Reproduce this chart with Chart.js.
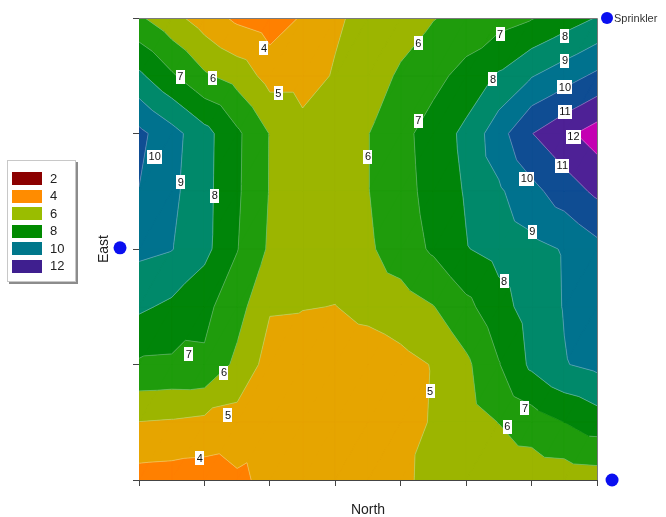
<!DOCTYPE html>
<html>
<head>
<meta charset="utf-8">
<script src="https://cdn.jsdelivr.net/npm/chart.js@4/dist/chart.umd.min.js"></script>
<style>
  html, body { margin: 0; padding: 0; background: #ffffff; }
  #wrap { width: 666px; height: 517px; }
</style>
</head>
<body>
<div id="wrap"><canvas id="field" width="666" height="517"></canvas></div>
<script>
// Axis tick positions (no tick labels are shown)
const northTicks = [0, 1, 2, 3, 4, 5, 6, 7];
const eastTicks = [0, 1, 2, 3, 4];

// Measurement grid: North every 0.5, East every 0.5
const gridNorth = [0, 0.5, 1, 1.5, 2, 2.5, 3, 3.5, 4, 4.5, 5, 5.5, 6, 6.5, 7];
const gridEast = [0, 0.5, 1, 1.5, 2, 2.5, 3, 3.5, 4];

// Water depth readings, one row per East position (bottom to top)
const eastRow0 = [3.60, 3.55, 3.50, 3.85, 4.20, 4.35, 4.50, 4.70, 4.93, 5.10, 5.20, 5.28, 5.35, 5.42, 5.50];
const eastRow1 = [4.98, 4.90, 4.75, 4.60, 4.35, 4.25, 4.25, 4.35, 4.60, 5.09, 5.56, 6.02, 6.50, 7.00, 7.50];
const eastRow2 = [6.86, 6.82, 6.85, 5.75, 4.60, 4.30, 4.30, 4.40, 4.70, 5.05, 5.80, 6.95, 8.20, 8.95, 9.25];
const eastRow3 = [8.17, 7.80, 7.25, 6.40, 5.08, 5.05, 4.98, 5.30, 5.55, 5.97, 6.74, 7.64, 8.42, 9.05, 9.47];
const eastRow4 = [9.23, 9.04, 8.29, 7.04, 5.85, 5.45, 5.45, 5.85, 6.49, 7.15, 7.95, 8.34, 8.70, 9.07, 9.70];
const eastRow5 = [9.98, 9.24, 8.32, 7.15, 5.95, 5.45, 5.50, 5.97, 6.64, 7.35, 8.09, 8.85, 9.71, 10.49, 11.20];
const eastRow6 = [10.25, 9.36, 8.35, 7.18, 5.96, 5.30, 5.40, 5.97, 6.71, 7.43, 8.24, 9.60, 10.97, 11.75, 12.45];
const eastRow7 = [8.20, 7.14, 6.14, 5.60, 4.62, 4.62, 5.08, 5.59, 6.12, 6.69, 7.35, 8.12, 8.94, 9.55, 10.20];
const eastRow8 = [6.15, 5.33, 4.52, 3.80, 3.45, 4.10, 4.87, 5.28, 5.62, 5.96, 6.29, 6.62, 6.94, 7.49, 8.05];
const surfaceRows = [eastRow0, eastRow1, eastRow2, eastRow3, eastRow4, eastRow5, eastRow6, eastRow7, eastRow8];

// Contour levels and the legend entries
const contourLevels = [4, 5, 6, 7, 8, 9, 10, 11, 12];
const legendLevels = [2, 4, 6, 8, 10, 12];

// Sprinkler positions (they sit just outside the measured field)
const sprinklerNorth = [-0.29, 7.23];
const sprinklerEast = [2.01, 0.0];

// Contour label anchors (North, East) and the level each one names
const labelNorth = [1.91, 2.13, 0.63, 1.13, 0.24, 0.64, 1.16, 4.27, 5.52, 6.51, 6.51, 6.51, 6.51, 6.64, 5.41, 4.27, 3.50, 6.47, 5.93, 6.01, 5.58, 4.45, 5.90, 5.63, 0.76, 1.30, 1.36, 0.93];
const labelEast  = [3.74, 3.35, 3.49, 3.48, 2.80, 2.58, 2.46, 3.78, 3.86, 3.84, 3.63, 3.40, 3.19, 2.97, 3.47, 3.11, 2.80, 2.72, 2.61, 2.15, 1.72, 0.77, 0.62, 0.46, 1.09, 0.93, 0.56, 0.19];
const labelLevel = [4, 5, 7, 6, 10, 9, 8, 6, 7, 8, 9, 10, 11, 12, 8, 7, 6, 11, 10, 9, 8, 5, 7, 6, 7, 6, 5, 4];

// Fill colours: below 4, 4-5, 5-6, ... 11-12, above 12
const bandColors = ['#ff8000', '#e6a500', '#9cb500', '#1f9c0c', '#008509', '#00896a', '#00728e', '#0f4d93', '#4e2196', '#c400b2'];
const legendColors = ['#8b0000', '#ff8c00', '#9abd00', '#008a00', '#00778a', '#3f1f8f'];
const sprinklerColor = '#0a0ff0';

const FONT = '"Liberation Sans", Arial, Helvetica, sans-serif';

function clipPoly(poly, keep, level) {
  const out = [];
  for (let k = 0; k < poly.length; k++) {
    const a = poly[k], b = poly[(k + 1) % poly.length];
    const ai = keep(a.v), bi = keep(b.v);
    if (ai) out.push(a);
    if (ai !== bi) {
      const t = (level - a.v) / (b.v - a.v);
      out.push({ x: a.x + (b.x - a.x) * t, y: a.y + (b.y - a.y) * t, v: level });
    }
  }
  return out;
}

function buildTriangles(chart) {
  const sx = chart.scales.x, sy = chart.scales.y;
  const tris = [];
  for (let j = 0; j < gridEast.length - 1; j++) {
    for (let i = 0; i < gridNorth.length - 1; i++) {
      const p = (ii, jj) => ({
        x: sx.getPixelForValue(gridNorth[ii]),
        y: sy.getPixelForValue(gridEast[jj]),
        v: surfaceRows[jj][ii]
      });
      const a = p(i, j), b = p(i + 1, j), c = p(i + 1, j + 1), d = p(i, j + 1);
      tris.push([a, b, c]);
      tris.push([a, c, d]);
    }
  }
  return tris;
}

const contourPlugin = {
  id: 'contourFill',
  beforeDatasetsDraw(chart) {
    const ctx = chart.ctx, area = chart.chartArea;
    const tris = buildTriangles(chart);
    ctx.save();
    ctx.beginPath();
    ctx.rect(area.left, area.top, area.right - area.left, area.bottom - area.top);
    ctx.clip();
    const edges = [-1e9].concat(contourLevels, [1e9]);
    for (let b = 0; b < edges.length - 1; b++) {
      const lo = edges[b], hi = edges[b + 1];
      ctx.beginPath();
      tris.forEach(t => {
        let poly = clipPoly(t, v => v >= lo, lo);
        if (poly.length < 3) return;
        poly = clipPoly(poly, v => v <= hi, hi);
        if (poly.length < 3) return;
        ctx.moveTo(poly[0].x, poly[0].y);
        for (let k = 1; k < poly.length; k++) ctx.lineTo(poly[k].x, poly[k].y);
        ctx.closePath();
      });
      ctx.fillStyle = bandColors[b];
      ctx.fill();
      ctx.strokeStyle = bandColors[b];
      ctx.lineWidth = 0.6;
      ctx.stroke();
    }
    // thin contour lines
    ctx.beginPath();
    contourLevels.forEach(L => {
      tris.forEach(t => {
        const pts = [];
        for (let k = 0; k < 3; k++) {
          const a = t[k], c = t[(k + 1) % 3];
          if ((a.v - L) * (c.v - L) < 0) {
            const f = (L - a.v) / (c.v - a.v);
            pts.push([a.x + (c.x - a.x) * f, a.y + (c.y - a.y) * f]);
          }
        }
        if (pts.length === 2) {
          ctx.moveTo(pts[0][0], pts[0][1]);
          ctx.lineTo(pts[1][0], pts[1][1]);
        }
      });
    });
    ctx.strokeStyle = 'rgba(255,255,255,0.28)';
    ctx.lineWidth = 1;
    ctx.stroke();
    ctx.restore();
  },
  afterDatasetsDraw(chart) {
    const ctx = chart.ctx, area = chart.chartArea;
    const sx = chart.scales.x, sy = chart.scales.y;
    // frame on the top and right sides
    ctx.save();
    ctx.strokeStyle = '#7a7a7a';
    ctx.lineWidth = 1;
    ctx.beginPath();
    ctx.moveTo(area.left, area.top + 0.5);
    ctx.lineTo(area.right + 0.5, area.top + 0.5);
    ctx.lineTo(area.right + 0.5, area.bottom);
    ctx.stroke();

    // contour labels
    ctx.font = '11px ' + FONT;
    ctx.textAlign = 'center';
    ctx.textBaseline = 'middle';
    labelLevel.forEach((lv, k) => {
      const x = sx.getPixelForValue(labelNorth[k]);
      const y = sy.getPixelForValue(labelEast[k]);
      const txt = String(lv);
      const w = ctx.measureText(txt).width + 3;
      ctx.fillStyle = '#ffffff';
      ctx.fillRect(Math.round(x - w / 2), Math.round(y - 7), Math.round(w), 14);
      ctx.fillStyle = '#111111';
      ctx.fillText(txt, x, y + 0.5);
    });

    // sprinklers, placed through the axis scales
    ctx.fillStyle = sprinklerColor;
    sprinklerNorth.forEach((n, k) => {
      ctx.beginPath();
      ctx.arc(sx.getPixelForValue(n), sy.getPixelForValue(sprinklerEast[k]), 6.5, 0, Math.PI * 2);
      ctx.fill();
    });

    // axis titles
    ctx.fillStyle = '#222222';
    ctx.font = '14px ' + FONT;
    ctx.fillText('North', (area.left + area.right) / 2, 510);
    ctx.save();
    ctx.translate(104, (area.top + area.bottom) / 2);
    ctx.rotate(-Math.PI / 2);
    ctx.fillText('East', 0, 0);
    ctx.restore();

    // level legend
    ctx.fillStyle = '#ffffff';
    ctx.fillRect(7, 160, 69, 122);
    ctx.fillStyle = '#8c8c8c';
    ctx.fillRect(76, 162, 2, 122);
    ctx.fillRect(9, 282, 69, 2);
    ctx.strokeStyle = '#c8c8c8';
    ctx.strokeRect(7.5, 160.5, 68, 121);
    ctx.textAlign = 'left';
    ctx.font = '13px ' + FONT;
    legendLevels.forEach((lv, k) => {
      const cy = 178.5 + k * 17.5;
      ctx.fillStyle = legendColors[k];
      ctx.fillRect(12, Math.round(cy - 6.5), 30, 13);
      ctx.fillStyle = '#222222';
      ctx.fillText(String(lv), 50, cy + 0.5);
    });

    // sprinkler legend
    ctx.fillStyle = sprinklerColor;
    ctx.beginPath();
    ctx.arc(607, 18, 6, 0, Math.PI * 2);
    ctx.fill();
    ctx.fillStyle = '#333333';
    ctx.font = '11px ' + FONT;
    ctx.fillText('Sprinkler', 614, 18.5);
    ctx.restore();
  }
};

const sprinklerPoints = sprinklerNorth.map((n, k) => ({ x: n, y: sprinklerEast[k] }));
const gridPoints = [];
gridEast.forEach((e, j) => gridNorth.forEach((n, i) => gridPoints.push({ x: n, y: e, v: surfaceRows[j][i] })));

new Chart(document.getElementById('field'), {
  type: 'scatter',
  data: {
    datasets: [
      {
        label: 'Depth grid',
        data: gridPoints,
        pointRadius: 0,
        pointHoverRadius: 0
      },
      {
        label: 'Sprinkler',
        data: sprinklerPoints,
        pointRadius: 0,
        pointHoverRadius: 0
      }
    ]
  },
  options: {
    responsive: false,
    devicePixelRatio: 1,
    animation: false,
    events: [],
    layout: { padding: { left: 133, right: 69, top: 18, bottom: 31 } },
    plugins: { legend: { display: false }, tooltip: { enabled: false } },
    scales: {
      x: {
        type: 'linear',
        min: northTicks[0],
        max: northTicks[northTicks.length - 1],
        afterBuildTicks: s => { s.ticks = northTicks.map(v => ({ value: v })); },
        afterFit: s => { s.height = 6; },
        ticks: { display: false },
        grid: { display: true, drawOnChartArea: false, drawTicks: true, tickLength: 6, color: '#444444', lineWidth: 1 },
        border: { display: true, color: '#444444', width: 1 }
      },
      y: {
        type: 'linear',
        min: eastTicks[0],
        max: eastTicks[eastTicks.length - 1],
        afterBuildTicks: s => { s.ticks = eastTicks.map(v => ({ value: v })); },
        afterFit: s => { s.width = 6; },
        ticks: { display: false },
        grid: { display: true, drawOnChartArea: false, drawTicks: true, tickLength: 6, color: '#444444', lineWidth: 1 },
        border: { display: true, color: '#444444', width: 1 }
      }
    }
  },
  plugins: [contourPlugin]
});
</script>
</body>
</html>
